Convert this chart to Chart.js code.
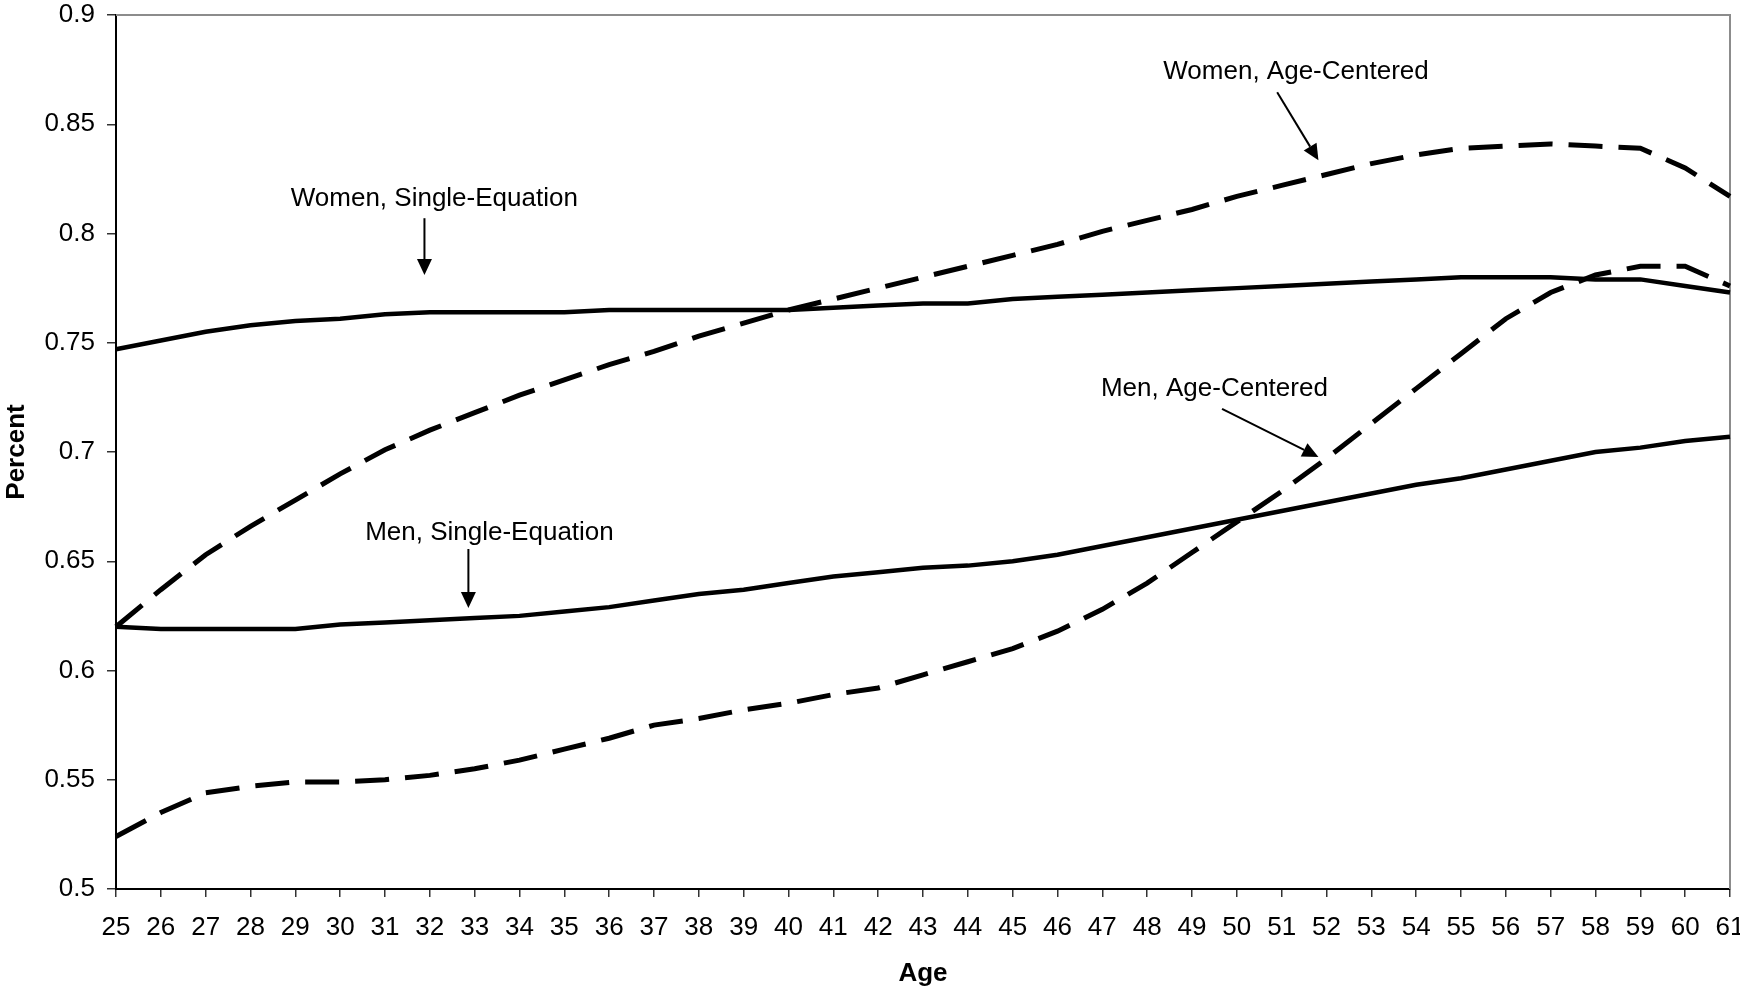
<!DOCTYPE html>
<html>
<head>
<meta charset="utf-8">
<script src="https://cdn.jsdelivr.net/npm/chart.js@4/dist/chart.umd.min.js"></script>
<style>
  html, body { margin: 0; padding: 0; background: #fff; }
  #wrap { width: 1740px; height: 989px; }
</style>
</head>
<body>
<div id="wrap"><canvas id="chart" width="1740" height="989"></canvas></div>
<script>
// ages on the x axis
var ages = ["25", "26", "27", "28", "29", "30", "31", "32", "33", "34", "35", "36", "37",
	"38", "39", "40", "41", "42", "43", "44", "45", "46", "47", "48", "49", "50",
	"51", "52", "53", "54", "55", "56", "57", "58", "59", "60", "61"];

var womenSingle = [0.747, 0.751, 0.755, 0.758, 0.760, 0.761, 0.763, 0.764, 0.764, 0.764,
	0.764, 0.765, 0.765, 0.765, 0.765, 0.765, 0.766, 0.767, 0.768, 0.768,
	0.770, 0.771, 0.772, 0.773, 0.774, 0.775, 0.776, 0.777, 0.778, 0.779,
	0.780, 0.780, 0.780, 0.779, 0.779, 0.776, 0.773];

var womenCentered = [0.620, 0.637, 0.653, 0.666, 0.678, 0.690, 0.701, 0.710, 0.718, 0.726,
	0.733, 0.740, 0.746, 0.753, 0.759, 0.765, 0.770, 0.775, 0.780, 0.785,
	0.790, 0.795, 0.801, 0.806, 0.811, 0.817, 0.822, 0.827, 0.832, 0.836,
	0.839, 0.840, 0.841, 0.840, 0.839, 0.830, 0.817];

var menSingle = [0.620, 0.619, 0.619, 0.619, 0.619, 0.621, 0.622, 0.623, 0.624, 0.625,
	0.627, 0.629, 0.632, 0.635, 0.637, 0.640, 0.643, 0.645, 0.647, 0.648,
	0.650, 0.653, 0.657, 0.661, 0.665, 0.669, 0.673, 0.677, 0.681, 0.685,
	0.688, 0.692, 0.696, 0.700, 0.702, 0.705, 0.707];

var menCentered = [0.524, 0.535, 0.544, 0.547, 0.549, 0.549, 0.550, 0.552, 0.555, 0.559,
	0.564, 0.569, 0.575, 0.578, 0.582, 0.585, 0.589, 0.592, 0.598, 0.604,
	0.610, 0.618, 0.628, 0.640, 0.654, 0.668, 0.682, 0.697, 0.713, 0.729,
	0.745, 0.761, 0.773, 0.781, 0.785, 0.785, 0.776];

// callouts: text position and arrow, in data units (age index, percent)
var notes = [
	{ text: "Women, Single-Equation", x: 7.10, y: 0.8157, from: [6.88, 0.807], to: [6.88, 0.781] },
	{ text: "Women, Age-Centered", x: 26.32, y: 0.8739, from: [25.90, 0.8646], to: [26.82, 0.8335] },
	{ text: "Men, Age-Centered", x: 24.50, y: 0.7288, from: [24.67, 0.7197], to: [26.82, 0.6977] },
	{ text: "Men, Single-Equation", x: 8.33, y: 0.6629, from: [7.86, 0.6556], to: [7.86, 0.6286] }
];

var FONT = "'Liberation Sans', Arial, sans-serif";

var framePlugin = {
	id: "frame",
	beforeDatasetsDraw: function (chart) {
		var ctx = chart.ctx, ca = chart.chartArea;
		ctx.save();
		ctx.strokeStyle = "#8c8c8c";
		ctx.lineWidth = 2;
		ctx.beginPath();
		ctx.moveTo(ca.left, ca.top);
		ctx.lineTo(ca.right, ca.top);
		ctx.lineTo(ca.right, ca.bottom);
		ctx.stroke();
		ctx.restore();
	}
};

var notesPlugin = {
	id: "notes",
	afterDraw: function (chart) {
		var ctx = chart.ctx;
		var xs = chart.scales.x, ys = chart.scales.y;
		ctx.save();
		ctx.fillStyle = "#000";
		ctx.strokeStyle = "#000";
		ctx.font = "26px " + FONT;
		ctx.textAlign = "center";
		ctx.textBaseline = "middle";
		notes.forEach(function (n) {
			ctx.fillText(n.text, xs.getPixelForValue(n.x), ys.getPixelForValue(n.y));
			var x1 = xs.getPixelForValue(n.from[0]), y1 = ys.getPixelForValue(n.from[1]);
			var x2 = xs.getPixelForValue(n.to[0]), y2 = ys.getPixelForValue(n.to[1]);
			var ang = Math.atan2(y2 - y1, x2 - x1);
			var head = 16, half = 7.5;
			var bx = x2 - head * Math.cos(ang), by = y2 - head * Math.sin(ang);
			ctx.lineWidth = 2;
			ctx.beginPath();
			ctx.moveTo(x1, y1);
			ctx.lineTo(bx, by);
			ctx.stroke();
			ctx.beginPath();
			ctx.moveTo(x2, y2);
			ctx.lineTo(bx + half * Math.sin(ang), by - half * Math.cos(ang));
			ctx.lineTo(bx - half * Math.sin(ang), by + half * Math.cos(ang));
			ctx.closePath();
			ctx.fill();
		});
		ctx.restore();
	}
};

function lineSet(label, values, dashed) {
	return {
		label: label,
		data: values,
		borderColor: "#000",
		borderWidth: dashed ? 5 : 4.5,
		borderDash: dashed ? [34, 16] : [],
		pointRadius: 0,
		tension: 0,
		fill: false
	};
}

new Chart(document.getElementById("chart"), {
	type: "line",
	data: {
		labels: ages,
		datasets: [
			lineSet("Women, Single-Equation", womenSingle, false),
			lineSet("Women, Age-Centered", womenCentered, true),
			lineSet("Men, Single-Equation", menSingle, false),
			lineSet("Men, Age-Centered", menCentered, true)
		]
	},
	options: {
		responsive: false,
		animation: false,
		layout: { padding: 0 },
		plugins: {
			legend: { display: false },
			tooltip: { enabled: false }
		},
		scales: {
			x: {
				type: "category",
				offset: false,
				grid: { drawOnChartArea: false, drawTicks: true, tickLength: 8, color: "#333", lineWidth: 1.5 },
				border: { display: true, color: "#000", width: 2 },
				ticks: { color: "#000", font: { family: FONT, size: 26 }, padding: 15, maxRotation: 0, autoSkip: false },
				title: { display: true, text: "Age", color: "#000", font: { family: FONT, size: 26, weight: "bold" }, padding: { top: 0, bottom: 0 } },
				afterFit: function (s) {
					s.height = 100;
					s.paddingLeft = 0;
					s.paddingRight = 10;
				}
			},
			y: {
				min: 0.5,
				max: 0.9,
				grid: { drawOnChartArea: false, drawTicks: true, tickLength: 9, color: "#333", lineWidth: 1.5 },
				border: { display: true, color: "#000", width: 2 },
				ticks: {
					stepSize: 0.05,
					color: "#000",
					font: { family: FONT, size: 26 },
					padding: 12,
					callback: function (v) { return String(Number(v.toFixed(2))); }
				},
				title: { display: true, text: "Percent", color: "#000", font: { family: FONT, size: 26, weight: "bold" }, padding: { top: 1, bottom: 0 } },
				afterFit: function (s) {
					s.width = 116;
					s.paddingTop = 15;
					s.paddingBottom = 0;
				}
			}
		}
	},
	plugins: [framePlugin, notesPlugin]
});
</script>
</body>
</html>
